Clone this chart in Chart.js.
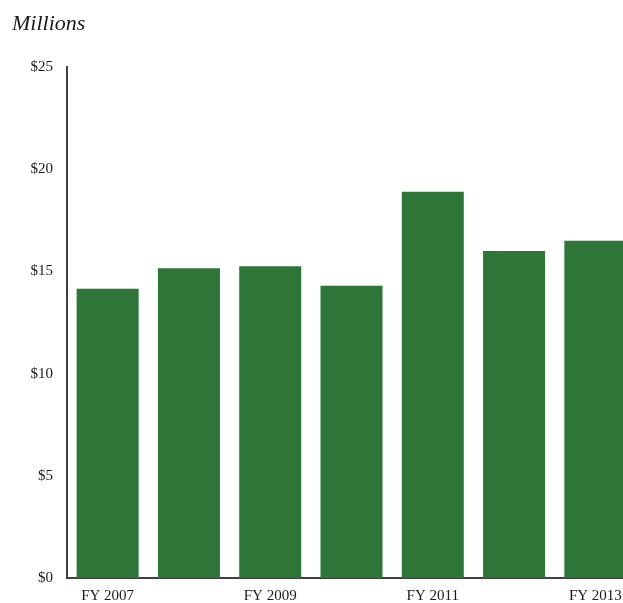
<!DOCTYPE html>
<html>
<head>
<meta charset="utf-8">
<script src="https://cdn.jsdelivr.net/npm/chart.js@4"></script>
<style>
html,body{margin:0;padding:0;overflow:hidden;background:#fff;}
#wrap{width:636px;height:603px;position:relative;}
</style>
</head>
<body>
<div id="wrap"><canvas id="c"></canvas></div>
<script>
const categories = ["FY 2007","FY 2008","FY 2009","FY 2010","FY 2011","FY 2012","FY 2013"];
const values = [14.15, 15.15, 15.25, 14.3, 18.9, 16.0, 16.5];
const yTicks = [0, 5, 10, 15, 20, 25];
const unitLabel = "Millions";

const titlePlugin = {
  id: 'unitTitle',
  afterDraw(chart) {
    const ctx = chart.ctx;
    ctx.save();
    ctx.font = 'italic 22px "Liberation Serif", serif';
    ctx.fillStyle = '#1a1a1a';
    ctx.textAlign = 'left';
    ctx.textBaseline = 'alphabetic';
    ctx.fillText(unitLabel, 12, 30);
    ctx.restore();
  }
};

new Chart(document.getElementById('c'), {
  type: 'bar',
  data: {
    labels: categories,
    datasets: [{
      data: values,
      backgroundColor: '#2e7637',
      borderWidth: 0,
      barPercentage: 1,
      categoryPercentage: 0.763
    }]
  },
  options: {
    responsive: true,
    maintainAspectRatio: false,
    animation: false,
    layout: { padding: { top: 67, left: 0, right: 0, bottom: 0 } },
    plugins: { legend: { display: false }, tooltip: { enabled: false } },
    scales: {
      x: {
        grid: { display: false, drawTicks: false },
        border: { display: true, color: '#404040', width: 2 },
        ticks: {
          autoSkip: false,
          maxRotation: 0,
          padding: 9,
          color: '#1a1a1a',
          font: { family: '"Liberation Serif", serif', size: 15 },
          callback: function(v, i) { return i % 2 === 0 ? categories[i] : ''; }
        },
        afterFit(s) { s.height = 25; }
      },
      y: {
        min: 0, max: 25,
        afterBuildTicks(s) { s.ticks = yTicks.map(v => ({ value: v })); },
        grid: { display: false, drawTicks: false },
        border: { display: true, color: '#404040', width: 2 },
        ticks: {
          padding: 14,
          color: '#1a1a1a',
          font: { family: '"Liberation Serif", serif', size: 15 },
          callback: v => '$' + v
        },
        afterFit(s) { s.width = 67; }
      }
    }
  },
  plugins: [titlePlugin]
});
</script>
</body>
</html>
